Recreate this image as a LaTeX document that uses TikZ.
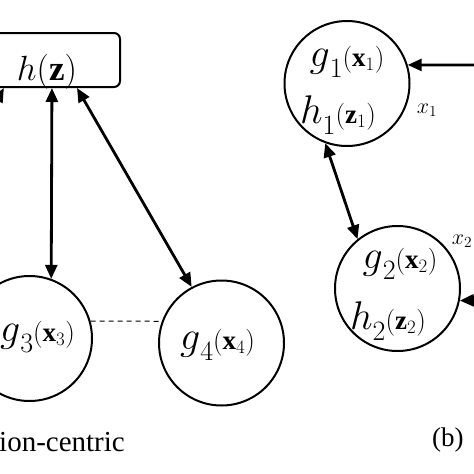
\RequirePackage{fix-cm}
\documentclass[tikz,border=0pt]{standalone}
\usepackage{fontspec}
\setmainfont{Liberation Serif}
\usetikzlibrary{arrows.meta}

\newcommand{\fn}[4]{{\fontsize{40}{40}\selectfont$#1$}\raisebox{-11pt}{\fontsize{28}{28}\selectfont$#2$}{\fontsize{27}{27}\selectfont$(\mathbf{#3}_{#4})$}}

\tikzset{
    unit/.style={circle, draw, line width=2pt, minimum size=125pt, inner sep=0pt},
    hbox/.style={draw, rounded corners=6pt, line width=2pt, minimum width=146pt, minimum height=54pt, inner sep=0pt},
    link/.style={line width=2.8pt, {Triangle[length=14pt,width=12pt]}-{Triangle[length=14pt,width=12pt]}},
    feed/.style={line width=2.8pt, -{Triangle[length=14pt,width=12pt]}},
    txt/.style={inner sep=0pt, anchor=base}
}

\begin{document}
\begin{tikzpicture}[x=1pt, y=-1pt]
                                \useasboundingbox (0,0) rectangle (474,474);
                                \clip (0,0) rectangle (474,474);
                                % left part
                                \node[hbox] (hz) at (47,60) {};
                                \node[txt] (hzt) at (47,80) {\fontsize{35}{35}\selectfont$h(\mathbf{z})$};
                                \node[unit] (g3) at (29.5,338.5) {};
                                \node[unit] (g4) at (221.5,343) {};
                                \node[txt] (g3t) at (37.5,341) {\fn{g}{3}{x}{3}};
                                \node[txt] (g4t) at (217.5,349) {\fn{g}{4}{x}{4}};
                                \coordinate (offl) at (-80,238);
                                \draw[link] (hz.-147) -- (offl);
                                \draw[link] (hz.-80) -- (g3.70);
                                \draw[link] (hz.-43) -- (g4.118);
                                \draw[dashed, line width=1pt, dash pattern=on 5pt off 4pt] (g3.16) -- (g4.160);
                                \node[inner sep=0pt, anchor=base west] (capa) at (-1,451) {\fontsize{29}{29}\selectfont ion-centric};
                                % right part
                                \node[unit] (g1) at (347,83.5) {};
                                \node[unit] (g2) at (397.5,288.5) {};
                                \node[txt] (g1t) at (347,66) {\fn{g}{1}{x}{1}};
                                \node[txt] (h1t) at (338,123) {\fn{h}{1}{z}{1}};
                                \node[txt] (g2t) at (400,268) {\fn{g}{2}{x}{2}};
                                \node[txt] (h2t) at (388,329) {\fn{h}{2}{z}{2}};
                                \node (x1) at (427,110) {\fontsize{22}{22}\selectfont$x_1$};
                                \node (x2) at (462,241) {\fontsize{22}{22}\selectfont$x_2$};
                                \coordinate (in1) at (490,65);
                                \coordinate (in2) at (490,300);
                                \draw[feed] (in1) -- (g1.17);
                                \draw[feed] (in2) -- (g2.-11);
                                \draw[link] (g1.-110) -- (g2.129);
                                \node[inner sep=0pt, anchor=base west] (capb) at (432,446) {\fontsize{27}{27}\selectfont (b)};
                            \end{tikzpicture}
\end{document}
